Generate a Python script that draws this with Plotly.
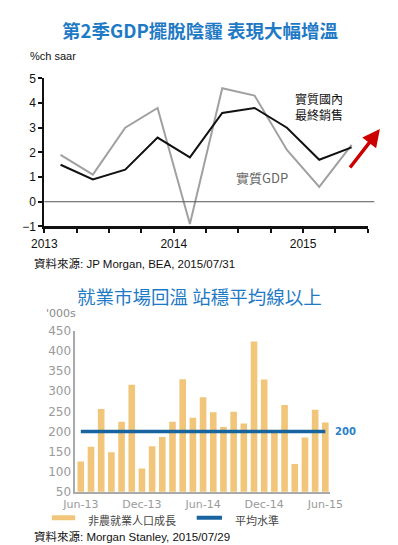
import plotly.graph_objects as go

W, H = 398, 545
def px(x): return x / W
def py(y): return 1 - y / H

# ---------- Top chart data ----------
quarters = ["2013Q1","2013Q2","2013Q3","2013Q4","2014Q1","2014Q2","2014Q3","2014Q4","2015Q1","2015Q2"]
real_gdp = [1.9, 1.1, 3.0, 3.8, -0.9, 4.6, 4.3, 2.1, 0.6, 2.3]
final_sales = [1.5, 0.9, 1.3, 2.6, 1.8, 3.6, 3.8, 3.0, 1.7, 2.2]
year_ticks = ["2013", "", "", "", "2014", "", "", "", "2015", "", ""]
y_ticks_top = [-1, 0, 1, 2, 3, 4, 5]

# ---------- Bottom chart data ----------
months = ["Jun-13","Jul-13","Aug-13","Sep-13","Oct-13","Nov-13","Dec-13",
          "Jan-14","Feb-14","Mar-14","Apr-14","May-14","Jun-14",
          "Jul-14","Aug-14","Sep-14","Oct-14","Nov-14","Dec-14",
          "Jan-15","Feb-15","Mar-15","Apr-15","May-15","Jun-15"]
payrolls = [125, 162, 256, 148, 224, 316, 108, 163, 186, 224, 330, 234, 285,
            248, 211, 249, 220, 424, 329, 201, 266, 119, 185, 254, 222]
average_level = 200
x_label_months = ["Jun-13", "Dec-13", "Jun-14", "Dec-14", "Jun-15"]
y_ticks_bottom = [50, 100, 150, 200, 250, 300, 350, 400, 450]

LAT = "Liberation Sans, Noto Sans CJK TC, sans-serif"
CJK = "Noto Sans CJK TC, Liberation Sans, sans-serif"
NARROW = "Liberation Sans Narrow, Liberation Sans, sans-serif"
BLUE_T = "#1f7ac6"
BAR_C = "#f1c67a"
AVG_C = "#17649f"

fig = go.Figure()

qx = [i + 0.5 for i in range(len(quarters))]
fig.add_trace(go.Scatter(x=qx, y=real_gdp, mode="lines", line=dict(color="#a0a0a0", width=2),
                         xaxis="x", yaxis="y", showlegend=False, name="實質GDP"))
fig.add_trace(go.Scatter(x=qx, y=final_sales, mode="lines", line=dict(color="#111111", width=2),
                         xaxis="x", yaxis="y", showlegend=False, name="實質國內最終銷售"))

mi = list(range(len(months)))
fig.add_trace(go.Bar(x=mi, y=payrolls, marker=dict(color=BAR_C, line=dict(width=0)),
                     xaxis="x2", yaxis="y2", showlegend=False, name="非農就業人口成長"))
fig.add_trace(go.Scatter(x=mi, y=[average_level] * len(months), mode="lines",
                         line=dict(color=AVG_C, width=3.5), xaxis="x2", yaxis="y2",
                         showlegend=False, name="平均水準"))

fig.update_layout(
    width=W, height=H, margin=dict(l=0, r=0, t=0, b=0),
    paper_bgcolor="white", plot_bgcolor="rgba(0,0,0,0)",
    bargap=0.35, showlegend=False,
    xaxis=dict(domain=[px(25), px(371)], range=[0, 10], anchor="y",
               tickmode="array", tickvals=list(range(11)), ticktext=year_ticks,
               ticks="outside", ticklen=4, tickwidth=1.5, tickcolor="#111",
               showline=True, linecolor="#111", linewidth=2.5, showgrid=False, zeroline=False,
               tickfont=dict(family=NARROW, size=12, color="#111")),
    yaxis=dict(domain=[py(217), py(65)], range=[-1, 5], anchor="x",
               tickmode="array", tickvals=y_ticks_top,
               ticks="outside", ticklen=4, tickwidth=1.5, tickcolor="#111",
               showline=True, linecolor="#111", linewidth=2, showgrid=False, zeroline=False,
               tickfont=dict(family=NARROW, size=12, color="#111")),
    xaxis2=dict(domain=[px(58), px(330.5)], range=[-0.55, 24.45], anchor="y2",
                tickmode="array", tickvals=[months.index(m) for m in x_label_months],
                ticktext=x_label_months, ticks="", ticklabelstandoff=1,
                showline=True, linecolor="#aaaaaa", linewidth=1.5, showgrid=False, zeroline=False,
                tickfont=dict(family="DejaVu Sans, sans-serif", size=11, color="#9a9a9a")),
    yaxis2=dict(domain=[py(489.3), py(324.3)], range=[50, 450], anchor="x2",
                tickmode="array", tickvals=y_ticks_bottom, ticks="",
                showline=True, linecolor="#aaaaaa", linewidth=1.5, showgrid=False, zeroline=False,
                tickfont=dict(family="DejaVu Sans, sans-serif", size=12, color="#9a9a9a")),
)

fig.add_shape(type="line", xref="paper", yref="y", x0=px(25), x1=px(378), y0=0, y1=0,
              line=dict(color="#555", width=1))

# manual legend swatches
fig.add_shape(type="line", xref="paper", yref="paper", x0=px(33), x1=px(58), y0=py(516), y1=py(516),
              line=dict(color=BAR_C, width=5))
fig.add_shape(type="line", xref="paper", yref="paper", x0=px(188), x1=px(215), y0=py(516), y1=py(516),
              line=dict(color=AVG_C, width=4))

ann = [
    dict(text="<b>第2季GDP擺脫陰霾 表現大幅增溫</b>", x=px(191), y=py(15),
         font=dict(family=CJK, size=18.5, color=BLUE_T)),
    dict(text="%ch saar", x=px(7), y=py(42), xanchor="left",
         font=dict(family=LAT, size=11, color="#111")),
    dict(text="實質國內<br>最終銷售", x=px(319), y=py(94),
         font=dict(family=CJK, size=12, color="#111")),
    dict(text="實質GDP", x=px(258), y=py(167),
         font=dict(family=CJK, size=13, color="#666")),
    dict(text="資料來源: JP Morgan, BEA, 2015/07/31", x=px(12), y=py(255), xanchor="left",
         font=dict(family=LAT, size=11.5, color="#111")),
    dict(text="就業市場回溫 站穩平均線以上", x=px(191), y=py(288),
         font=dict(family=CJK, size=18.5, color=BLUE_T)),
    dict(text="'000s", x=px(25), y=py(306), xanchor="left",
         font=dict(family="DejaVu Sans, sans-serif", size=11, color="#888")),
    dict(text="<b>200</b>", x=px(334), y=py(427), xanchor="left",
         font=dict(family="DejaVu Sans, sans-serif", size=10, color="#2a7fc8")),
    dict(text="非農就業人口成長", x=px(70), y=py(518), xanchor="left",
         font=dict(family=CJK, size=11, color="#444")),
    dict(text="平均水準", x=px(227), y=py(518), xanchor="left",
         font=dict(family=CJK, size=11, color="#444")),
    dict(text="資料來源: Morgan Stanley, 2015/07/29", x=px(12), y=py(535), xanchor="left",
         font=dict(family=LAT, size=11.5, color="#111")),
]
for a in ann:
    a.setdefault("xanchor", "center")
    fig.add_annotation(xref="paper", yref="paper", yanchor="middle", showarrow=False, **a)

fig.add_annotation(xref="paper", yref="paper", x=px(384), y=py(117), ax=-31, ay=40,
                   axref="pixel", ayref="pixel", text="", showarrow=True,
                   arrowhead=2, arrowsize=1, arrowwidth=3.5, arrowcolor="#cc0000")

fig.write_html("out.html")
